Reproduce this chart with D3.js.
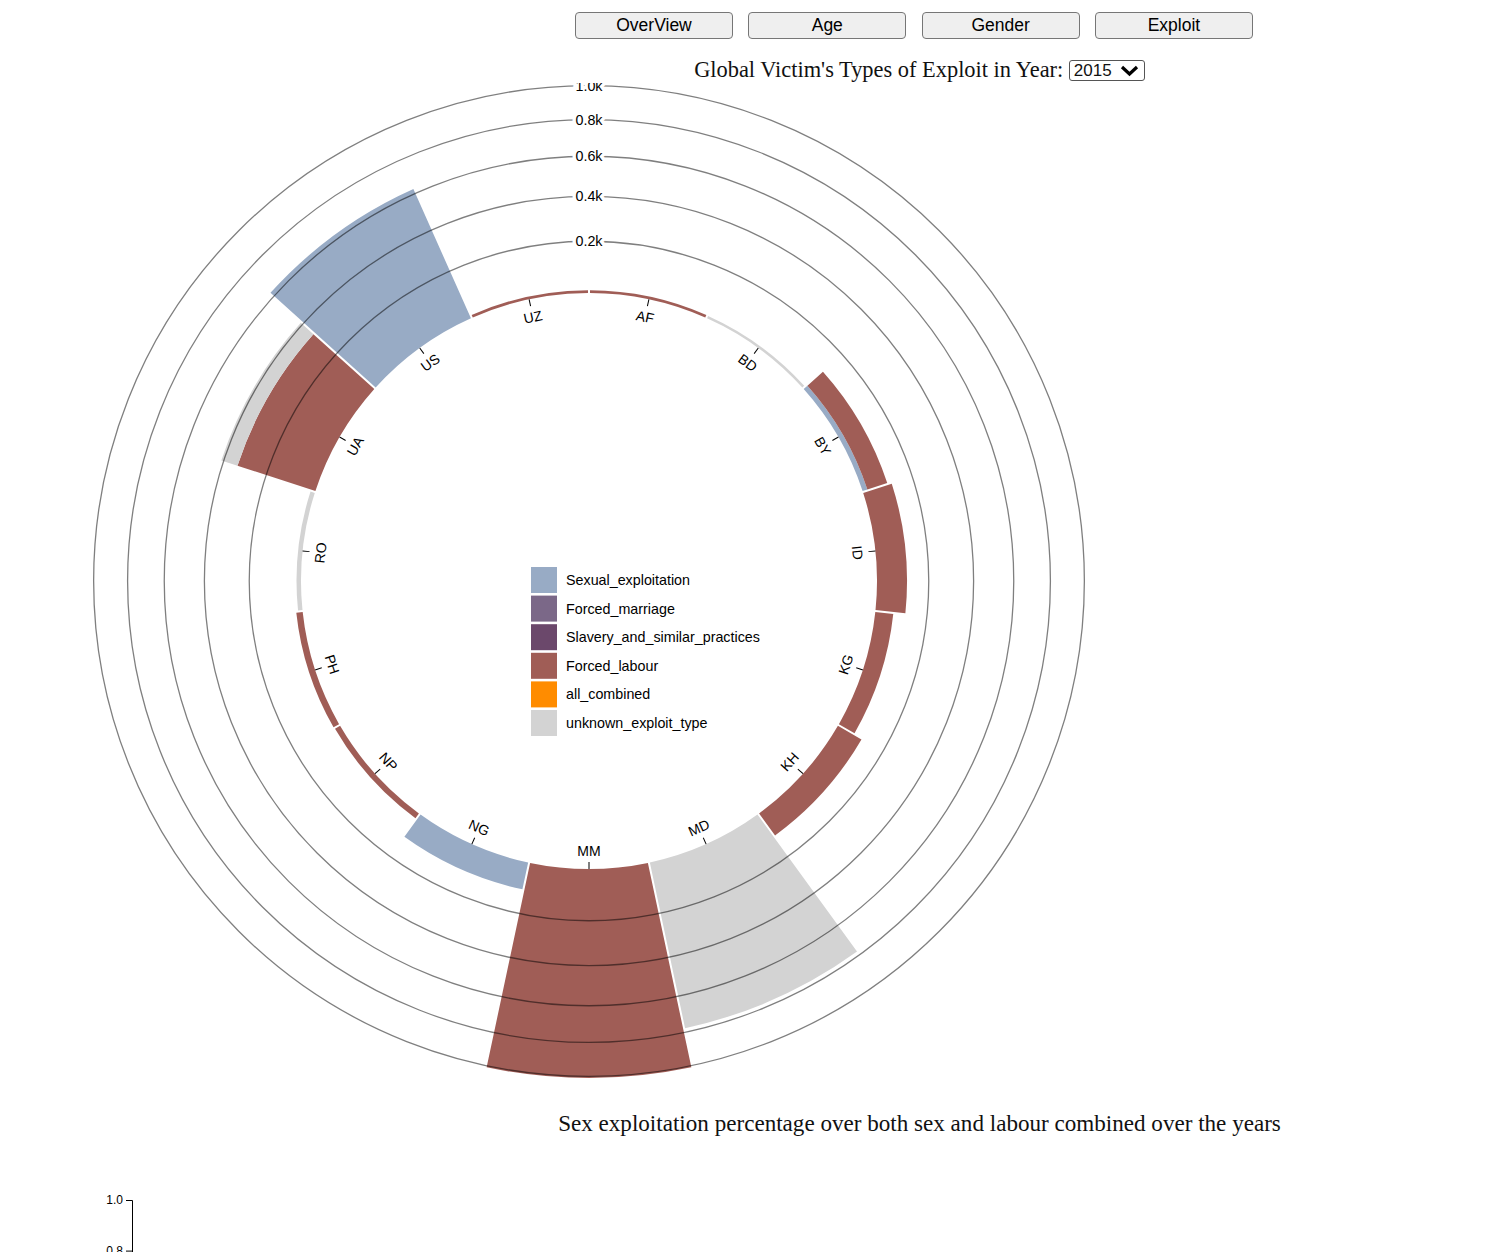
<!DOCTYPE html>
<html>
<head>
<meta charset="utf-8">
<script src="https://cdn.jsdelivr.net/npm/d3@7"></script>
<style>
body { margin: 0; background: #fff; font-family: Arial, "Liberation Sans", sans-serif; }
.btn { position: absolute; top: 12px; width: 158px; height: 27px; box-sizing: border-box;
  background: #efefef; border: 1px solid #767676; border-radius: 4px;
  font: 17.5px Arial, "Liberation Sans", sans-serif; color: #000; text-align: center; line-height: 25px; }
.title { position: absolute; left: 0; width: 1839px; text-align: center; white-space: nowrap;
  font-family: "Liberation Serif", "Times New Roman", serif; color: #111; }
.sel { display: inline-block; box-sizing: border-box; width: 76px; height: 21px; vertical-align: 1px;
  border: 1px solid #555; border-radius: 3px; font: 17px Arial, "Liberation Sans", sans-serif;
  line-height: 19px; text-align: left; padding-left: 4px; position: relative; }
.sel svg { position: absolute; right: 5px; top: 4px; }
svg text { font-family: Arial, "Liberation Sans", sans-serif; }
</style>
</head>
<body>
<div id="buttons"></div>
<div class="title" style="top:57px;font-size:22.4px">Global Victim's Types of Exploit in Year: <span class="sel">2015<svg width="19" height="12"><polyline points="2,2 9.5,9 17,2" fill="none" stroke="#000" stroke-width="3.2"/></svg></span></div>
<svg id="chart" width="1178" height="1000" style="position:absolute;left:0;top:83px"></svg>
<div class="title" style="top:1110px;font-size:23.1px">Sex exploitation percentage over both sex and labour combined over the years</div>
<svg id="trend" width="400" height="80" style="position:absolute;left:0;top:1180px"></svg>
<script>
var buttons = ["OverView", "Age", "Gender", "Exploit"];

var countries = ["AF", "BD", "BY", "ID", "KG", "KH", "MD", "MM", "NG", "NP", "PH", "RO", "UA", "US", "UZ"];
var keys = ["Sexual_exploitation", "Forced_marriage", "Slavery_and_similar_practices",
  "Forced_labour", "all_combined", "unknown_exploit_type"];

// 2015 victims per country, by exploit type
var sexualExploitation = [0, 0, 18, 0, 0, 0, 0, 0, 102, 0, 0, 0, 0, 625, 0];
var forcedMarriage     = [0, 0, 0, 0, 0, 0, 0, 0, 0, 0, 0, 0, 0, 0, 0];
var slavery            = [0, 0, 0, 0, 0, 0, 0, 0, 0, 0, 0, 0, 0, 0, 0];
var forcedLabour       = [10, 0, 78, 112, 66, 101, 0, 1010, 0, 21, 23, 0, 332, 0, 10];
var allCombined        = [0, 0, 0, 0, 0, 0, 0, 0, 0, 0, 0, 0, 0, 0, 0];
var unknownExploit     = [0, 9, 0, 0, 0, 0, 777, 0, 0, 0, 0, 16, 79, 0, 0];

var trendTicks = [0, 0.2, 0.4, 0.6, 0.8, 1.0];

var series = [sexualExploitation, forcedMarriage, slavery, forcedLabour, allCombined, unknownExploit];

d3.select("#buttons").selectAll("div")
    .data(buttons)
  .enter().append("div")
    .attr("class", "btn")
    .style("left", function(d, i) { return (575 + i * 173.3) + "px"; })
    .text(function(d) { return d; });

var data = countries.map(function(c, i) {
  var row = {country: c, total: 0};
  keys.forEach(function(k, j) { row[k] = series[j][i]; row.total += series[j][i]; });
  return row;
});

var svg = d3.select("#chart"),
    innerRadius = 288,
    outerRadius = 497,
    g = svg.append("g").attr("transform", "translate(589,498)");

var x = d3.scaleBand()
    .domain(countries)
    .range([0, 2 * Math.PI])
    .align(0);

var y = d3.scaleRadial()
    .domain([0, d3.max(data, function(d) { return d.total; })])
    .range([innerRadius, outerRadius]);

var z = d3.scaleOrdinal()
    .domain(keys)
    .range(["#98abc5", "#7b6888", "#6b486b", "#a05d56", "#ff8c00", "#d3d3d3"]);

var arc = d3.arc()
    .innerRadius(function(d) { return y(d[0]); })
    .outerRadius(function(d) { return y(d[1]); })
    .startAngle(function(d) { return x(d.data.country); })
    .endAngle(function(d) { return x(d.data.country) + x.bandwidth(); })
    .padAngle(2 / innerRadius)
    .padRadius(innerRadius);

g.append("g")
  .selectAll("g")
  .data(d3.stack().keys(keys)(data))
  .enter().append("g")
    .attr("fill", function(d) { return z(d.key); })
  .selectAll("path")
  .data(function(d) { return d; })
  .enter().append("path")
    .attr("d", arc);

// country labels
var label = g.append("g")
    .attr("text-anchor", "middle")
  .selectAll("g")
  .data(countries)
  .enter().append("g")
    .attr("transform", function(d) {
      return "rotate(" + ((x(d) + x.bandwidth() / 2) * 180 / Math.PI - 90) + ")translate(" + innerRadius + ",0)";
    });

label.append("line")
    .attr("x2", -7)
    .attr("stroke", "#000");

label.append("text")
    .attr("transform", function(d) {
      return (x(d) + x.bandwidth() / 2 + Math.PI / 2) % (2 * Math.PI) < Math.PI
        ? "rotate(90)translate(0,23)"
        : "rotate(-90)translate(0,-13)";
    })
    .style("font-size", "14px")
    .text(function(d) { return d; });

// rings
var yAxis = g.append("g")
    .attr("text-anchor", "middle");

var yTick = yAxis.selectAll("g")
  .data(y.ticks(5).slice(1))
  .enter().append("g")
    .attr("fill", "none");

yTick.append("circle")
    .attr("stroke", "#000")
    .attr("stroke-opacity", 0.5)
    .attr("stroke-width", 1.3)
    .attr("r", y);

var fmt = y.tickFormat(5, "s");

yTick.append("text")
    .attr("y", function(d) { return -y(d); })
    .attr("dy", "0.35em")
    .attr("stroke", "#fff")
    .attr("stroke-width", 7)
    .style("font-size", "14.3px")
    .text(fmt);

yTick.append("text")
    .attr("y", function(d) { return -y(d); })
    .attr("dy", "0.35em")
    .attr("fill", "#000")
    .style("font-size", "14.3px")
    .text(fmt);

// legend
var legend = g.append("g")
  .selectAll("g")
  .data(keys)
  .enter().append("g")
    .attr("transform", function(d, i) { return "translate(-58," + (-14 + i * 28.6) + ")"; });

legend.append("rect")
    .attr("width", 26)
    .attr("height", 26)
    .attr("fill", z);

legend.append("text")
    .attr("x", 35)
    .attr("y", 13)
    .attr("dy", "0.35em")
    .style("font-size", "14.3px")
    .text(function(d) { return d; });

// trend chart (only the top of it is in view)
var yTrend = d3.scaleLinear().domain([0, 1]).range([253, 0]);

d3.select("#trend").append("g")
    .attr("transform", "translate(132,20)")
    .call(d3.axisLeft(yTrend).tickValues(trendTicks).tickFormat(d3.format(".1f")))
    .selectAll("text")
    .style("font-size", "12px");
</script>
</body>
</html>
